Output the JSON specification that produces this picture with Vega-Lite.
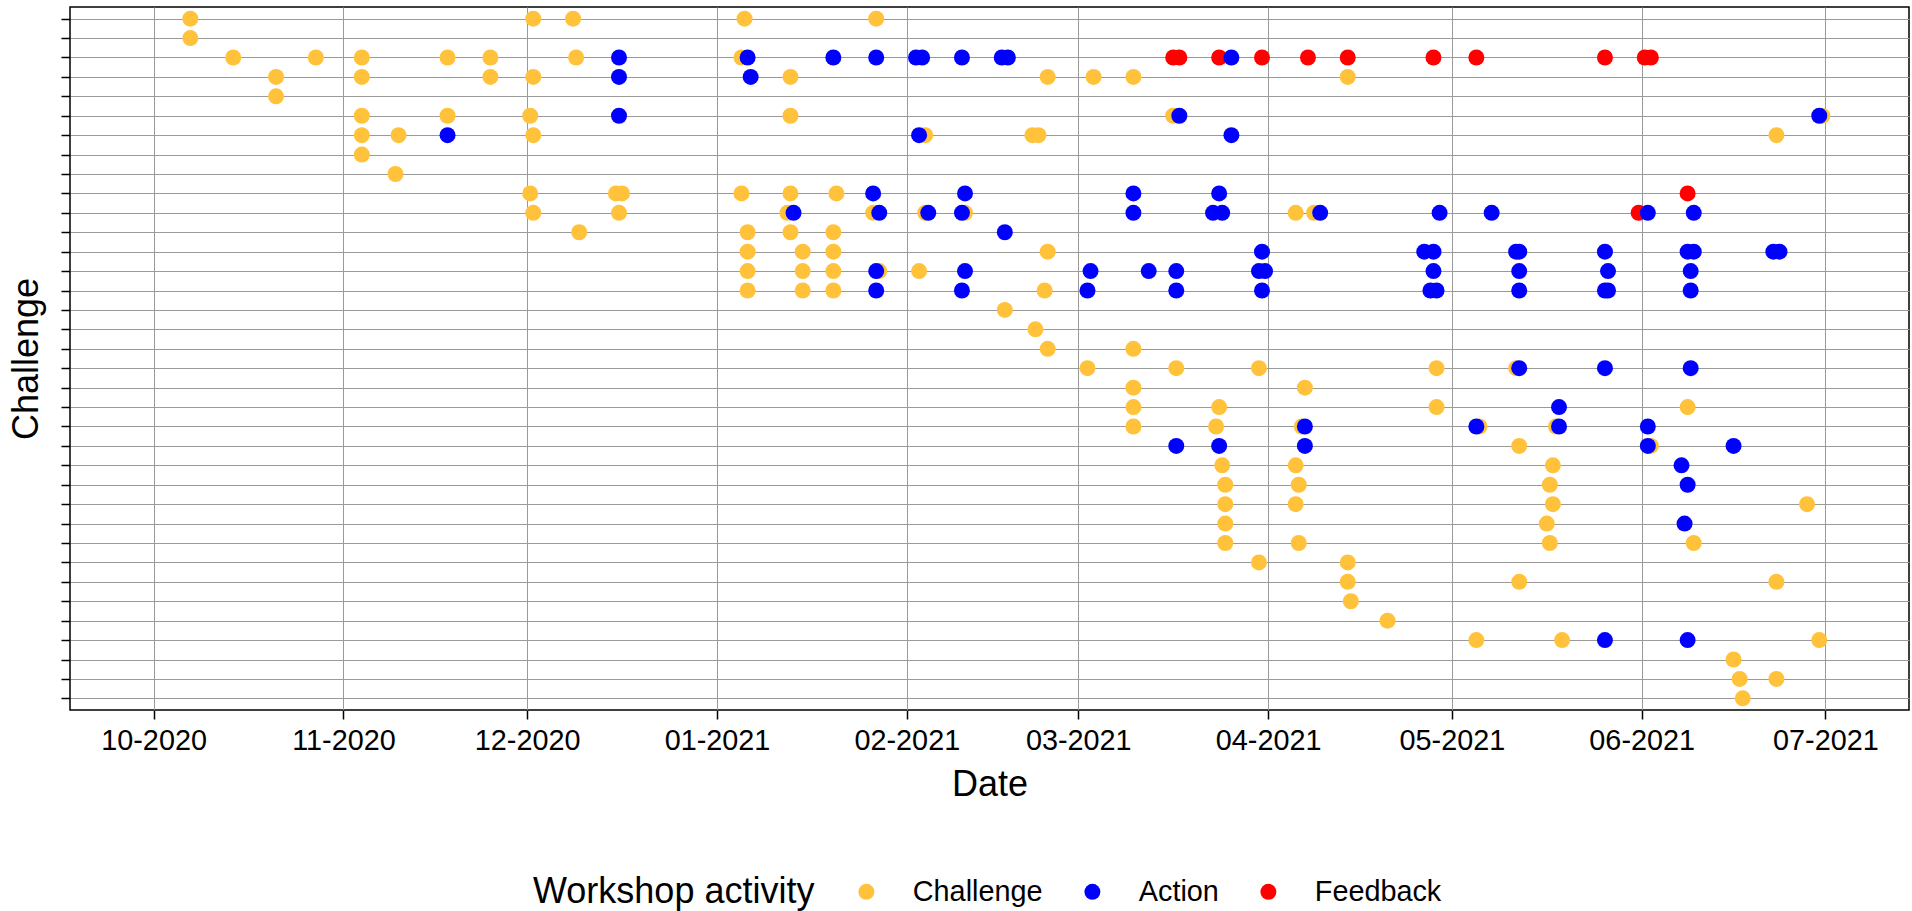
{
"$schema": "https://vega.github.io/schema/vega-lite/v6.json",
"width": 1839, "height": 703,
"autosize": {"type": "none"},
"padding": {"left": 70, "top": 7, "right": 3, "bottom": 201},
"background": "white",
"data": {"values": [
{"challenge":"C01","date":"2020-10-07","activity":"Challenge"},
{"challenge":"C01","date":"2020-12-02","activity":"Challenge"},
{"challenge":"C01","date":"2020-12-08T12:00:00Z","activity":"Challenge"},
{"challenge":"C01","date":"2021-01-05T12:00:00Z","activity":"Challenge"},
{"challenge":"C01","date":"2021-01-27","activity":"Challenge"},
{"challenge":"C02","date":"2020-10-07","activity":"Challenge"},
{"challenge":"C03","date":"2020-10-14","activity":"Challenge"},
{"challenge":"C03","date":"2020-10-27T12:00:00Z","activity":"Challenge"},
{"challenge":"C03","date":"2020-11-04","activity":"Challenge"},
{"challenge":"C03","date":"2020-11-18","activity":"Challenge"},
{"challenge":"C03","date":"2020-11-25","activity":"Challenge"},
{"challenge":"C03","date":"2020-12-09","activity":"Challenge"},
{"challenge":"C03","date":"2021-01-05","activity":"Challenge"},
{"challenge":"C04","date":"2020-10-21","activity":"Challenge"},
{"challenge":"C04","date":"2020-11-04","activity":"Challenge"},
{"challenge":"C04","date":"2020-11-25","activity":"Challenge"},
{"challenge":"C04","date":"2020-12-02","activity":"Challenge"},
{"challenge":"C04","date":"2021-01-13","activity":"Challenge"},
{"challenge":"C04","date":"2021-02-24","activity":"Challenge"},
{"challenge":"C04","date":"2021-03-03T12:00:00Z","activity":"Challenge"},
{"challenge":"C04","date":"2021-03-10","activity":"Challenge"},
{"challenge":"C04","date":"2021-04-14","activity":"Challenge"},
{"challenge":"C05","date":"2020-10-21","activity":"Challenge"},
{"challenge":"C06","date":"2020-11-04","activity":"Challenge"},
{"challenge":"C06","date":"2020-11-18","activity":"Challenge"},
{"challenge":"C06","date":"2020-12-01T12:00:00Z","activity":"Challenge"},
{"challenge":"C06","date":"2021-01-13","activity":"Challenge"},
{"challenge":"C06","date":"2021-03-16T12:00:00Z","activity":"Challenge"},
{"challenge":"C06","date":"2021-06-30T12:00:00Z","activity":"Challenge"},
{"challenge":"C07","date":"2020-11-04","activity":"Challenge"},
{"challenge":"C07","date":"2020-11-10","activity":"Challenge"},
{"challenge":"C07","date":"2020-12-02","activity":"Challenge"},
{"challenge":"C07","date":"2021-02-04","activity":"Challenge"},
{"challenge":"C07","date":"2021-02-21T12:00:00Z","activity":"Challenge"},
{"challenge":"C07","date":"2021-02-22T12:00:00Z","activity":"Challenge"},
{"challenge":"C07","date":"2021-06-23","activity":"Challenge"},
{"challenge":"C08","date":"2020-11-04","activity":"Challenge"},
{"challenge":"C09","date":"2020-11-09T12:00:00Z","activity":"Challenge"},
{"challenge":"C10","date":"2020-12-01T12:00:00Z","activity":"Challenge"},
{"challenge":"C10","date":"2020-12-15T12:00:00Z","activity":"Challenge"},
{"challenge":"C10","date":"2020-12-16T12:00:00Z","activity":"Challenge"},
{"challenge":"C10","date":"2021-01-05","activity":"Challenge"},
{"challenge":"C10","date":"2021-01-13","activity":"Challenge"},
{"challenge":"C10","date":"2021-01-20T12:00:00Z","activity":"Challenge"},
{"challenge":"C11","date":"2020-12-02","activity":"Challenge"},
{"challenge":"C11","date":"2020-12-16","activity":"Challenge"},
{"challenge":"C11","date":"2021-01-12T12:00:00Z","activity":"Challenge"},
{"challenge":"C11","date":"2021-01-26T12:00:00Z","activity":"Challenge"},
{"challenge":"C11","date":"2021-02-04","activity":"Challenge"},
{"challenge":"C11","date":"2021-02-10T12:00:00Z","activity":"Challenge"},
{"challenge":"C11","date":"2021-04-05T12:00:00Z","activity":"Challenge"},
{"challenge":"C11","date":"2021-04-08T12:00:00Z","activity":"Challenge"},
{"challenge":"C12","date":"2020-12-09T12:00:00Z","activity":"Challenge"},
{"challenge":"C12","date":"2021-01-06","activity":"Challenge"},
{"challenge":"C12","date":"2021-01-13","activity":"Challenge"},
{"challenge":"C12","date":"2021-01-20","activity":"Challenge"},
{"challenge":"C13","date":"2021-01-06","activity":"Challenge"},
{"challenge":"C13","date":"2021-01-15","activity":"Challenge"},
{"challenge":"C13","date":"2021-01-20","activity":"Challenge"},
{"challenge":"C13","date":"2021-02-24","activity":"Challenge"},
{"challenge":"C14","date":"2021-01-06","activity":"Challenge"},
{"challenge":"C14","date":"2021-01-15","activity":"Challenge"},
{"challenge":"C14","date":"2021-01-20","activity":"Challenge"},
{"challenge":"C14","date":"2021-01-27T12:00:00Z","activity":"Challenge"},
{"challenge":"C14","date":"2021-02-03","activity":"Challenge"},
{"challenge":"C15","date":"2021-01-06","activity":"Challenge"},
{"challenge":"C15","date":"2021-01-15","activity":"Challenge"},
{"challenge":"C15","date":"2021-01-20","activity":"Challenge"},
{"challenge":"C15","date":"2021-02-23T12:00:00Z","activity":"Challenge"},
{"challenge":"C16","date":"2021-02-17","activity":"Challenge"},
{"challenge":"C17","date":"2021-02-22","activity":"Challenge"},
{"challenge":"C18","date":"2021-02-24","activity":"Challenge"},
{"challenge":"C18","date":"2021-03-10","activity":"Challenge"},
{"challenge":"C19","date":"2021-03-02T12:00:00Z","activity":"Challenge"},
{"challenge":"C19","date":"2021-03-17","activity":"Challenge"},
{"challenge":"C19","date":"2021-03-30T12:00:00Z","activity":"Challenge"},
{"challenge":"C19","date":"2021-04-28T12:00:00Z","activity":"Challenge"},
{"challenge":"C19","date":"2021-05-11T12:00:00Z","activity":"Challenge"},
{"challenge":"C20","date":"2021-03-10","activity":"Challenge"},
{"challenge":"C20","date":"2021-04-07","activity":"Challenge"},
{"challenge":"C21","date":"2021-03-10","activity":"Challenge"},
{"challenge":"C21","date":"2021-03-24","activity":"Challenge"},
{"challenge":"C21","date":"2021-04-28T12:00:00Z","activity":"Challenge"},
{"challenge":"C21","date":"2021-06-08T12:00:00Z","activity":"Challenge"},
{"challenge":"C22","date":"2021-03-10","activity":"Challenge"},
{"challenge":"C22","date":"2021-03-23T12:00:00Z","activity":"Challenge"},
{"challenge":"C22","date":"2021-04-06T12:00:00Z","activity":"Challenge"},
{"challenge":"C22","date":"2021-05-05T12:00:00Z","activity":"Challenge"},
{"challenge":"C22","date":"2021-05-18","activity":"Challenge"},
{"challenge":"C23","date":"2021-05-12","activity":"Challenge"},
{"challenge":"C23","date":"2021-06-02T12:00:00Z","activity":"Challenge"},
{"challenge":"C24","date":"2021-03-24T12:00:00Z","activity":"Challenge"},
{"challenge":"C24","date":"2021-04-05T12:00:00Z","activity":"Challenge"},
{"challenge":"C24","date":"2021-05-17T12:00:00Z","activity":"Challenge"},
{"challenge":"C25","date":"2021-03-25","activity":"Challenge"},
{"challenge":"C25","date":"2021-04-06","activity":"Challenge"},
{"challenge":"C25","date":"2021-05-17","activity":"Challenge"},
{"challenge":"C26","date":"2021-03-25","activity":"Challenge"},
{"challenge":"C26","date":"2021-04-05T12:00:00Z","activity":"Challenge"},
{"challenge":"C26","date":"2021-05-17T12:00:00Z","activity":"Challenge"},
{"challenge":"C26","date":"2021-06-28","activity":"Challenge"},
{"challenge":"C27","date":"2021-03-25","activity":"Challenge"},
{"challenge":"C27","date":"2021-05-16T12:00:00Z","activity":"Challenge"},
{"challenge":"C28","date":"2021-03-25","activity":"Challenge"},
{"challenge":"C28","date":"2021-04-06","activity":"Challenge"},
{"challenge":"C28","date":"2021-05-17","activity":"Challenge"},
{"challenge":"C28","date":"2021-06-09T12:00:00Z","activity":"Challenge"},
{"challenge":"C29","date":"2021-03-30T12:00:00Z","activity":"Challenge"},
{"challenge":"C29","date":"2021-04-14","activity":"Challenge"},
{"challenge":"C30","date":"2021-04-14","activity":"Challenge"},
{"challenge":"C30","date":"2021-05-12","activity":"Challenge"},
{"challenge":"C30","date":"2021-06-23","activity":"Challenge"},
{"challenge":"C31","date":"2021-04-14T12:00:00Z","activity":"Challenge"},
{"challenge":"C32","date":"2021-04-20T12:00:00Z","activity":"Challenge"},
{"challenge":"C33","date":"2021-05-05","activity":"Challenge"},
{"challenge":"C33","date":"2021-05-19","activity":"Challenge"},
{"challenge":"C33","date":"2021-06-30","activity":"Challenge"},
{"challenge":"C34","date":"2021-06-16","activity":"Challenge"},
{"challenge":"C35","date":"2021-06-17","activity":"Challenge"},
{"challenge":"C35","date":"2021-06-23","activity":"Challenge"},
{"challenge":"C36","date":"2021-06-17T12:00:00Z","activity":"Challenge"},
{"challenge":"C03","date":"2021-03-16T12:00:00Z","activity":"Feedback"},
{"challenge":"C03","date":"2021-03-17T12:00:00Z","activity":"Feedback"},
{"challenge":"C03","date":"2021-03-24","activity":"Feedback"},
{"challenge":"C03","date":"2021-03-31","activity":"Feedback"},
{"challenge":"C03","date":"2021-04-07T12:00:00Z","activity":"Feedback"},
{"challenge":"C03","date":"2021-04-14","activity":"Feedback"},
{"challenge":"C03","date":"2021-04-28","activity":"Feedback"},
{"challenge":"C03","date":"2021-05-05","activity":"Feedback"},
{"challenge":"C03","date":"2021-05-26","activity":"Feedback"},
{"challenge":"C03","date":"2021-06-01T12:00:00Z","activity":"Feedback"},
{"challenge":"C03","date":"2021-06-02T12:00:00Z","activity":"Feedback"},
{"challenge":"C10","date":"2021-06-08T12:00:00Z","activity":"Feedback"},
{"challenge":"C11","date":"2021-05-31T12:00:00Z","activity":"Feedback"},
{"challenge":"C03","date":"2020-12-16","activity":"Action"},
{"challenge":"C03","date":"2021-01-06","activity":"Action"},
{"challenge":"C03","date":"2021-01-20","activity":"Action"},
{"challenge":"C03","date":"2021-01-27","activity":"Action"},
{"challenge":"C03","date":"2021-02-02T12:00:00Z","activity":"Action"},
{"challenge":"C03","date":"2021-02-03T12:00:00Z","activity":"Action"},
{"challenge":"C03","date":"2021-02-10","activity":"Action"},
{"challenge":"C03","date":"2021-02-16T12:00:00Z","activity":"Action"},
{"challenge":"C03","date":"2021-02-17T12:00:00Z","activity":"Action"},
{"challenge":"C03","date":"2021-03-26","activity":"Action"},
{"challenge":"C04","date":"2020-12-16","activity":"Action"},
{"challenge":"C04","date":"2021-01-06T12:00:00Z","activity":"Action"},
{"challenge":"C06","date":"2020-12-16","activity":"Action"},
{"challenge":"C06","date":"2021-03-17T12:00:00Z","activity":"Action"},
{"challenge":"C06","date":"2021-06-30","activity":"Action"},
{"challenge":"C07","date":"2020-11-18","activity":"Action"},
{"challenge":"C07","date":"2021-02-03","activity":"Action"},
{"challenge":"C07","date":"2021-03-26","activity":"Action"},
{"challenge":"C10","date":"2021-01-26T12:00:00Z","activity":"Action"},
{"challenge":"C10","date":"2021-02-10T12:00:00Z","activity":"Action"},
{"challenge":"C10","date":"2021-03-10","activity":"Action"},
{"challenge":"C10","date":"2021-03-24","activity":"Action"},
{"challenge":"C11","date":"2021-01-13T12:00:00Z","activity":"Action"},
{"challenge":"C11","date":"2021-01-27T12:00:00Z","activity":"Action"},
{"challenge":"C11","date":"2021-02-04T12:00:00Z","activity":"Action"},
{"challenge":"C11","date":"2021-02-10","activity":"Action"},
{"challenge":"C11","date":"2021-03-10","activity":"Action"},
{"challenge":"C11","date":"2021-03-23","activity":"Action"},
{"challenge":"C11","date":"2021-03-24T12:00:00Z","activity":"Action"},
{"challenge":"C11","date":"2021-04-09T12:00:00Z","activity":"Action"},
{"challenge":"C11","date":"2021-04-29","activity":"Action"},
{"challenge":"C11","date":"2021-05-07T12:00:00Z","activity":"Action"},
{"challenge":"C11","date":"2021-06-02","activity":"Action"},
{"challenge":"C11","date":"2021-06-09T12:00:00Z","activity":"Action"},
{"challenge":"C12","date":"2021-02-17","activity":"Action"},
{"challenge":"C13","date":"2021-03-31","activity":"Action"},
{"challenge":"C13","date":"2021-04-26T12:00:00Z","activity":"Action"},
{"challenge":"C13","date":"2021-04-28","activity":"Action"},
{"challenge":"C13","date":"2021-05-11T12:00:00Z","activity":"Action"},
{"challenge":"C13","date":"2021-05-12","activity":"Action"},
{"challenge":"C13","date":"2021-05-26","activity":"Action"},
{"challenge":"C13","date":"2021-06-08T12:00:00Z","activity":"Action"},
{"challenge":"C13","date":"2021-06-09T12:00:00Z","activity":"Action"},
{"challenge":"C13","date":"2021-06-22T12:00:00Z","activity":"Action"},
{"challenge":"C13","date":"2021-06-23T12:00:00Z","activity":"Action"},
{"challenge":"C14","date":"2021-01-27","activity":"Action"},
{"challenge":"C14","date":"2021-02-10T12:00:00Z","activity":"Action"},
{"challenge":"C14","date":"2021-03-03","activity":"Action"},
{"challenge":"C14","date":"2021-03-12T12:00:00Z","activity":"Action"},
{"challenge":"C14","date":"2021-03-17","activity":"Action"},
{"challenge":"C14","date":"2021-03-30T12:00:00Z","activity":"Action"},
{"challenge":"C14","date":"2021-03-31T12:00:00Z","activity":"Action"},
{"challenge":"C14","date":"2021-04-28","activity":"Action"},
{"challenge":"C14","date":"2021-05-12","activity":"Action"},
{"challenge":"C14","date":"2021-05-26T12:00:00Z","activity":"Action"},
{"challenge":"C14","date":"2021-06-09","activity":"Action"},
{"challenge":"C15","date":"2021-01-27","activity":"Action"},
{"challenge":"C15","date":"2021-02-10","activity":"Action"},
{"challenge":"C15","date":"2021-03-02T12:00:00Z","activity":"Action"},
{"challenge":"C15","date":"2021-03-17","activity":"Action"},
{"challenge":"C15","date":"2021-03-31","activity":"Action"},
{"challenge":"C15","date":"2021-04-27T12:00:00Z","activity":"Action"},
{"challenge":"C15","date":"2021-04-28T12:00:00Z","activity":"Action"},
{"challenge":"C15","date":"2021-05-12","activity":"Action"},
{"challenge":"C15","date":"2021-05-26","activity":"Action"},
{"challenge":"C15","date":"2021-05-26T12:00:00Z","activity":"Action"},
{"challenge":"C15","date":"2021-06-09","activity":"Action"},
{"challenge":"C19","date":"2021-05-12","activity":"Action"},
{"challenge":"C19","date":"2021-05-26","activity":"Action"},
{"challenge":"C19","date":"2021-06-09","activity":"Action"},
{"challenge":"C21","date":"2021-05-18T12:00:00Z","activity":"Action"},
{"challenge":"C22","date":"2021-04-07","activity":"Action"},
{"challenge":"C22","date":"2021-05-05","activity":"Action"},
{"challenge":"C22","date":"2021-05-18T12:00:00Z","activity":"Action"},
{"challenge":"C22","date":"2021-06-02","activity":"Action"},
{"challenge":"C23","date":"2021-03-17","activity":"Action"},
{"challenge":"C23","date":"2021-03-24","activity":"Action"},
{"challenge":"C23","date":"2021-04-07","activity":"Action"},
{"challenge":"C23","date":"2021-06-02","activity":"Action"},
{"challenge":"C23","date":"2021-06-16","activity":"Action"},
{"challenge":"C24","date":"2021-06-07T12:00:00Z","activity":"Action"},
{"challenge":"C25","date":"2021-06-08T12:00:00Z","activity":"Action"},
{"challenge":"C27","date":"2021-06-08","activity":"Action"},
{"challenge":"C33","date":"2021-05-26","activity":"Action"},
{"challenge":"C33","date":"2021-06-08T12:00:00Z","activity":"Action"}
]},
"mark": {"type": "point", "filled": true, "size": 256, "opacity": 1, "strokeWidth": 0},
"encoding": {
  "x": {"field": "date", "type": "temporal", "title": "Date",
    "scale": {"type": "utc", "nice": false, "domain": [
      {"year": 2020, "month": 9, "date": 17, "hours": 8, "minutes": 24, "utc": true},
      {"year": 2021, "month": 7, "date": 14, "hours": 15, "minutes": 36, "utc": true}]},
    "axis": {
      "values": [
        {"year": 2020, "month": 10, "date": 1, "utc": true},
        {"year": 2020, "month": 11, "date": 1, "utc": true},
        {"year": 2020, "month": 12, "date": 1, "utc": true},
        {"year": 2021, "month": 1, "date": 1, "utc": true},
        {"year": 2021, "month": 2, "date": 1, "utc": true},
        {"year": 2021, "month": 3, "date": 1, "utc": true},
        {"year": 2021, "month": 4, "date": 1, "utc": true},
        {"year": 2021, "month": 5, "date": 1, "utc": true},
        {"year": 2021, "month": 6, "date": 1, "utc": true},
        {"year": 2021, "month": 7, "date": 1, "utc": true}],
      "labelExpr": "utcFormat(datum.value, '%m-%Y')",
      "labelFontSize": 28.8, "labelPadding": 7, "labelFlush": false, "labelOverlap": false,
      "titlePadding": 13
    }
  },
  "y": {"field": "challenge", "type": "ordinal", "title": "Challenge", "sort": "ascending",
    "scale": {"type": "point", "padding": 0.6},
    "axis": {"labels": false, "titlePadding": 15}
  },
  "color": {"field": "activity", "type": "nominal",
    "scale": {"domain": ["Challenge", "Action", "Feedback"], "range": ["#FFC23A", "#0000FF", "#FF0000"]},
    "legend": {
      "title": "Workshop activity", "orient": "none", "legendX": 463, "legendY": 870,
      "direction": "horizontal", "titleOrient": "left", "titlePadding": 37, "titleLimit": 1000,
      "titleFontSize": 36, "titleFontWeight": "normal", "titleColor": "black", "titleFont": "Liberation Sans",
      "labelFontSize": 28.8, "labelColor": "black", "labelFont": "Liberation Sans", "labelOffset": 32, "labelLimit": 1000,
      "columnPadding": 35, "symbolType": "circle", "symbolSize": 256, "symbolStrokeWidth": 0, "symbolOpacity": 1
    }
  }
},
"config": {
  "font": "Liberation Sans",
  "view": {"stroke": "black", "strokeWidth": 1.5},
  "axis": {
    "domain": false, "grid": true, "gridColor": "#9a9a9a", "gridWidth": 1,
    "tickColor": "black", "tickWidth": 1.5, "tickSize": 9,
    "labelColor": "black", "labelFont": "Liberation Sans",
    "titleFont": "Liberation Sans", "titleFontSize": 36, "titleFontWeight": "normal", "titleColor": "black"
  }
}
}
